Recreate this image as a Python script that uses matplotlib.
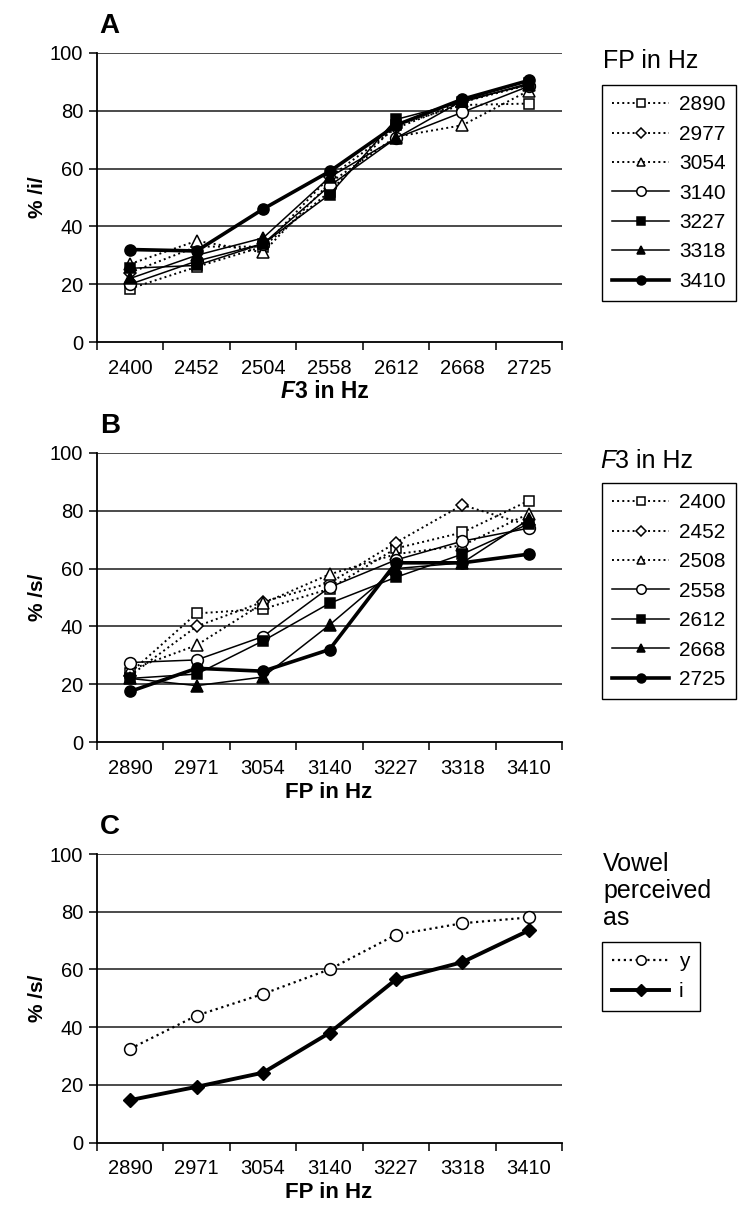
import numpy as np
import matplotlib
matplotlib.use("Agg")
import matplotlib.pyplot as plt

plt.rcParams['font.family'] = ['Liberation Sans', 'DejaVu Sans']

# panel A: x = F3, series = FP
f3_labels = ['2400', '2452', '2504', '2558', '2612', '2668', '2725']
fp_series_names = ['2890', '2977', '3054', '3140', '3227', '3318', '3410']
a_2890 = [18.5, 26, 33, 52, 75, 82, 82.5]
a_2977 = [24, 33, 33, 57, 74, 83, 89]
a_3054 = [27, 35, 31, 55, 71, 75, 87]
a_3140 = [20, 28, 34, 54, 70.5, 79.5, 88.5]
a_3227 = [25.5, 26.5, 34, 51, 77, 83, 89.5]
a_3318 = [22, 30, 36, 57, 70.5, 83.5, 89]
a_3410 = [32, 31.5, 46, 59, 75, 84, 90.5]

# panel B: x = FP, series = F3
fp_labels = ['2890', '2971', '3054', '3140', '3227', '3318', '3410']
f3_series_names = ['2400', '2452', '2508', '2558', '2612', '2668', '2725']
b_2400 = [24, 44.5, 46, 53, 67, 72.5, 83.5]
b_2452 = [23, 40, 48.5, 55, 69, 82, 75]
b_2508 = [25, 33.5, 48, 58, 65, 68, 79]
b_2558 = [27.5, 28.4, 36.5, 53.5, 63, 69.5, 74]
b_2612 = [22, 23.5, 35, 48, 57, 65, 75.5]
b_2668 = [22, 19.5, 22.5, 40.5, 60, 62, 77]
b_2725 = [17.5, 25.5, 24.5, 32, 62, 62, 65]

# panel C: x = FP, series = vowel perceived
c_names = ['y', 'i']
c_y = [32.5, 44, 51.5, 60, 72, 76, 78]
c_i = [14.7, 19.3, 24.2, 38, 56.5, 62.5, 73.5]

W, H = 738, 1207
fig = plt.figure(figsize=(W / 100, H / 100), dpi=100)

# 3 dotted open, 1 thin open, 2 thin filled, 1 thick filled
styles = [
    dict(ls=':', lw=1.4, marker='s', mfc='white', ms=7),
    dict(ls=':', lw=1.4, marker='D', mfc='white', ms=6.5),
    dict(ls=':', lw=1.4, marker='^', mfc='white', ms=8),
    dict(ls='-', lw=1.1, marker='o', mfc='white', ms=8.5),
    dict(ls='-', lw=1.1, marker='s', mfc='black', ms=7),
    dict(ls='-', lw=1.1, marker='^', mfc='black', ms=8),
    dict(ls='-', lw=2.6, marker='o', mfc='black', ms=8),
]


def px(x, y):
    return x / W, 1 - y / H


def setup_axes(top, bottom, cats, ylabel, letter):
    l, b = px(97, bottom)
    _, t = px(97, top)
    ax = fig.add_axes([l, b, (562 - 97) / W, t - b])
    x = np.arange(len(cats))
    ax.set_xlim(-0.5, len(cats) - 0.5)
    ax.set_ylim(0, 100)
    ax.set_yticks([0, 20, 40, 60, 80, 100])
    for v in [20, 40, 60, 80, 100]:
        ax.axhline(v, color='#1a1a1a', lw=1.1, zorder=1)
    ax.set_xticks(x)
    ax.set_xticklabels(cats)
    ax.set_xticks(np.arange(-0.5, len(cats)), minor=True)
    ax.tick_params(axis='x', which='major', length=0, pad=12, labelsize=14.5)
    ax.tick_params(axis='x', which='minor', length=6, width=1.1, direction='out')
    ax.tick_params(axis='y', length=6, width=1.1, direction='out', labelsize=14.5, pad=4)
    for s in ['top', 'right']:
        ax.spines[s].set_visible(False)
    ax.spines['left'].set_linewidth(1.3)
    ax.spines['bottom'].set_linewidth(1.3)
    ax.set_ylabel(ylabel, fontsize=15, fontweight='bold', labelpad=2)
    ax.text(0.006, 1.05, letter, transform=ax.transAxes, fontsize=20,
            fontweight='bold', ha='left', va='bottom')
    return ax, x


def italic_f_label(x, y, rest, weight, size):
    t = fig.text(x, y, rest, fontsize=size, fontweight=weight, ha='left',
                 va='baseline')
    fig.text(x, y, 'F', fontsize=size, fontweight=weight, style='italic',
             ha='right', va='baseline')
    return t


def add_legend(ax, handles, labels, top):
    lx, ly = px(602, top)
    leg = ax.legend(handles, labels, loc='upper left', bbox_to_anchor=(lx, ly),
                    bbox_transform=fig.transFigure, frameon=True, fancybox=False,
                    edgecolor='black', fontsize=15, handlelength=2.7,
                    handletextpad=0.5, labelspacing=0.5, borderpad=0.5,
                    borderaxespad=0, framealpha=1, markerscale=0.8)
    leg.get_frame().set_linewidth(1.0)
    return leg


def draw_series(ax, x, data):
    handles = []
    for vals, st in zip(data, styles):
        ln, = ax.plot(x, vals, color='black', mec='black', mew=1.1, zorder=3,
                      clip_on=False, **st)
        handles.append(ln)
    return handles


# ---- panel A
axA, xA = setup_axes(53, 342, f3_labels, '% /i/', 'A')
hA = draw_series(axA, xA, [a_2890, a_2977, a_3054, a_3140, a_3227, a_3318, a_3410])
add_legend(axA, hA, fp_series_names, 85)
fig.text(*px(603, 68), 'FP in Hz', fontsize=18, ha='left', va='baseline')
italic_f_label(*px(295, 398), '3 in Hz', 'bold', 16.5)

# ---- panel B
axB, xB = setup_axes(453, 742, fp_labels, '% /s/', 'B')
hB = draw_series(axB, xB, [b_2400, b_2452, b_2508, b_2558, b_2612, b_2668, b_2725])
add_legend(axB, hB, f3_series_names, 483)
italic_f_label(*px(615, 468), '3 in Hz', 'normal', 18)
fig.text(*px(329, 798), 'FP in Hz', fontsize=16, fontweight='bold', ha='center',
         va='baseline')

# ---- panel C
axC, xC = setup_axes(854, 1142.5, fp_labels, '% /s/', 'C')
l1, = axC.plot(xC, c_y, ls=':', lw=1.6, marker='o', mfc='white', mec='black',
               color='black', ms=8.5, mew=1.1, zorder=3, clip_on=False)
l2, = axC.plot(xC, c_i, ls='-', lw=2.8, marker='D', mfc='black', mec='black',
               color='black', ms=7.5, zorder=3, clip_on=False)
add_legend(axC, [l1, l2], c_names, 942)
fig.text(*px(603, 925), 'Vowel\nperceived\nas', fontsize=18, ha='left',
         va='baseline', linespacing=1.15)
fig.text(*px(329, 1198), 'FP in Hz', fontsize=16, fontweight='bold', ha='center',
         va='baseline')

fig.savefig('out.png', dpi=100)
